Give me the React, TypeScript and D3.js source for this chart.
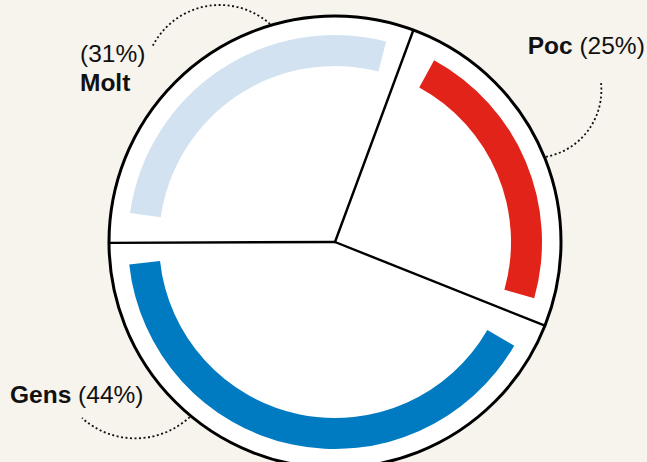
import React from 'react';
import * as d3 from 'd3';

// slice shares, and the label text printed next to them
const names = ['Poc', 'Gens', 'Molt'];
const shares = [25.4, 43.9, 30.7];
const pctLabels = ['(25%)', '(44%)', '(31%)'];
const colors = ['#e2231a', '#007ac0', '#d2e2f1'];

const W = 647;
const H = 462;
const cx = 335;
const cy = 242;
const R = 226;
const deg = Math.PI / 180;

const font = '"Helvetica Neue", Helvetica, Arial, "Liberation Sans", sans-serif';

// leader curves: where they touch the circle, where they end (relative to centre)
const leaders = [
  { attach: 68, end: [266, -159], r: 67.7, sweep: 0 },
  { attach: 219.7, end: [-253, 176], r: 80, sweep: 1 },
  { attach: 343.4, end: [-182.3, -196], r: 75.6, sweep: 0 },
];

const polar = (a: number, r: number): [number, number] => [Math.sin(a) * r, -Math.cos(a) * r];

const App: React.FC = () => {
  const start = 20.3 * deg;
  const pie = d3
    .pie<number>()
    .sort(null)
    .value((d) => d)
    .startAngle(start)
    .endAngle(start + 2 * Math.PI);
  const slices = pie(shares);

  const padStart = 8.3 * deg;
  const padEnd = 6 * deg;
  const band = d3
    .arc<d3.PieArcDatum<number>>()
    .innerRadius(176)
    .outerRadius(207)
    .startAngle((d) => d.startAngle + padStart)
    .endAngle((d) => d.endAngle - padEnd);

  return (
    <svg
      width={W}
      height={H}
      style={{ position: 'absolute', left: 0, top: 0, display: 'block' }}
    >
      <rect width={W} height={H} fill="#f7f4ee" />
      <g transform={`translate(${cx},${cy})`}>
        {leaders.map((l, i) => {
          const [sx, sy] = polar(l.attach * deg, R + 1.5);
          return (
            <path
              key={i}
              d={`M${sx},${sy} A${l.r},${l.r} 0 0 ${l.sweep} ${l.end[0]},${l.end[1]}`}
              fill="none"
              stroke="#111"
              strokeWidth={1.8}
              strokeDasharray="2 2.5"
            />
          );
        })}
        <circle r={R} fill="#fff" stroke="#000" strokeWidth={3} />
        {slices.map((s, i) => (
          <path key={names[i]} d={band(s) || ''} fill={colors[i]} />
        ))}
        {slices.map((s, i) => {
          const [x, y] = polar(s.startAngle, R);
          return <line key={i} x1={0} y1={0} x2={x} y2={y} stroke="#000" strokeWidth={2.4} strokeLinecap="round" />;
        })}
      </g>
      <g fontFamily={font} fontSize={24.5} fill="#111">
        <text x={cx + 192.7} y={cy - 188}>
          <tspan fontWeight="bold">{names[0]}</tspan>
          <tspan> {pctLabels[0]}</tspan>
        </text>
        <text x={cx - 325} y={cy + 160.5}>
          <tspan fontWeight="bold">{names[1]}</tspan>
          <tspan> {pctLabels[1]}</tspan>
        </text>
        <text x={cx - 255} y={cy - 180.5}>{pctLabels[2]}</text>
        <text x={cx - 255} y={cy - 151.5} fontWeight="bold">
          {names[2]}
        </text>
      </g>
    </svg>
  );
};

export default App;
